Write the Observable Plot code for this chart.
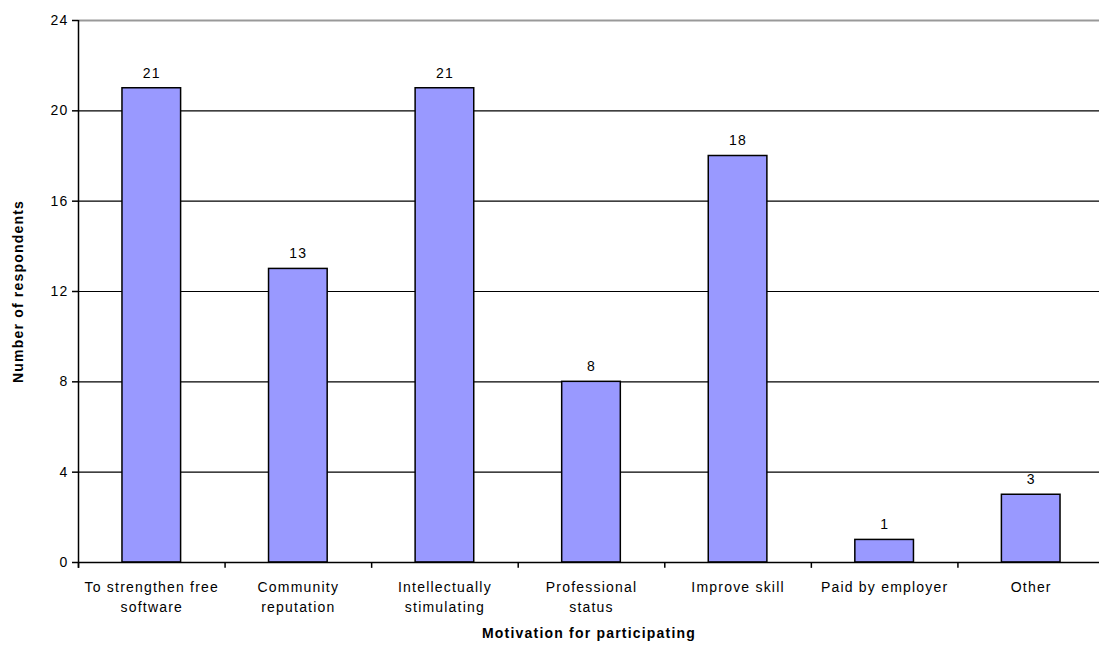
<!DOCTYPE html>
<html>
<head>
<meta charset="utf-8">
<script src="https://cdn.jsdelivr.net/npm/d3@7"></script>
<script src="https://cdn.jsdelivr.net/npm/@observablehq/plot@0.6"></script>
<style>
  html, body { margin: 0; padding: 0; background: #fff; overflow: hidden; }
  svg { display: block; font-family: "Liberation Sans", Arial, sans-serif; }
  svg text { letter-spacing: 1.2px; }
</style>
</head>
<body>
<div id="chart"></div>
<script>
const categories = [
  "To strengthen free\nsoftware",
  "Community\nreputation",
  "Intellectually\nstimulating",
  "Professional\nstatus",
  "Improve skill",
  "Paid by employer",
  "Other"
];
const values = [21, 13, 21, 8, 18, 1, 3];
const yTicks = [0, 4, 8, 12, 16, 20, 24];
const gridBlack = [4, 8, 12, 16, 20];
const gridTop = [24];
const xTitle = "Motivation for participating";
const yTitle = "Number of respondents";

const data = categories.map((c, i) => ({category: c, value: values[i]}));

const xRange = [78, 1104];
const step = (xRange[1] - xRange[0]) / categories.length;

const chart = Plot.plot({
  width: 1099,
  height: 649,
  marginTop: 20,
  marginBottom: 87,
  marginLeft: 78,
  marginRight: 0,
  style: {fontFamily: "'Liberation Sans', Arial, sans-serif", fontSize: "14px", color: "#000", background: "#fff"},
  x: {domain: categories, range: xRange, paddingInner: 0.6, paddingOuter: 0.3, align: 0.5, round: false, label: null},
  y: {domain: [0, 24], label: null},
  marks: [
    Plot.ruleY(gridBlack, {stroke: "#000", strokeWidth: 1.2}),
    Plot.ruleY(gridTop, {stroke: "#999", strokeWidth: 2}),
    Plot.barY(data, {x: "category", y: "value", fill: "#9999ff", stroke: "#000", strokeWidth: 1.5}),
    Plot.ruleY([0], {stroke: "#000", strokeWidth: 1.5}),
    Plot.ruleX(categories, {x: d => d, dx: -step / 2, y1: 0, y2: -0.26, stroke: "#000", strokeWidth: 1.5}),
    Plot.ruleX([categories[0]], {x: d => d, dx: -step / 2, y1: -0.26, y2: 24, stroke: "#000", strokeWidth: 1.5}),
    Plot.axisY({ticks: yTicks, tickSize: 6, tickPadding: 4, fontSize: 14, label: null, stroke: "#000", strokeWidth: 1.5}),
    Plot.axisX({tickSize: 0, tickPadding: 15, fontSize: 14, lineHeight: 1.45, label: null}),
    Plot.text(data, {x: "category", y: "value", text: d => String(d.value), dy: -15, fontSize: 14, fill: "#000"}),
    Plot.text([xTitle], {frameAnchor: "bottom", dy: 75, fontSize: 14, fontWeight: "bold", fill: "#000", text: d => d}),
    Plot.text([yTitle], {frameAnchor: "left", textAnchor: "middle", dx: -60, rotate: -90, fontSize: 14, fontWeight: "bold", fill: "#000", text: d => d})
  ]
});
document.getElementById("chart").appendChild(chart);
</script>
</body>
</html>
